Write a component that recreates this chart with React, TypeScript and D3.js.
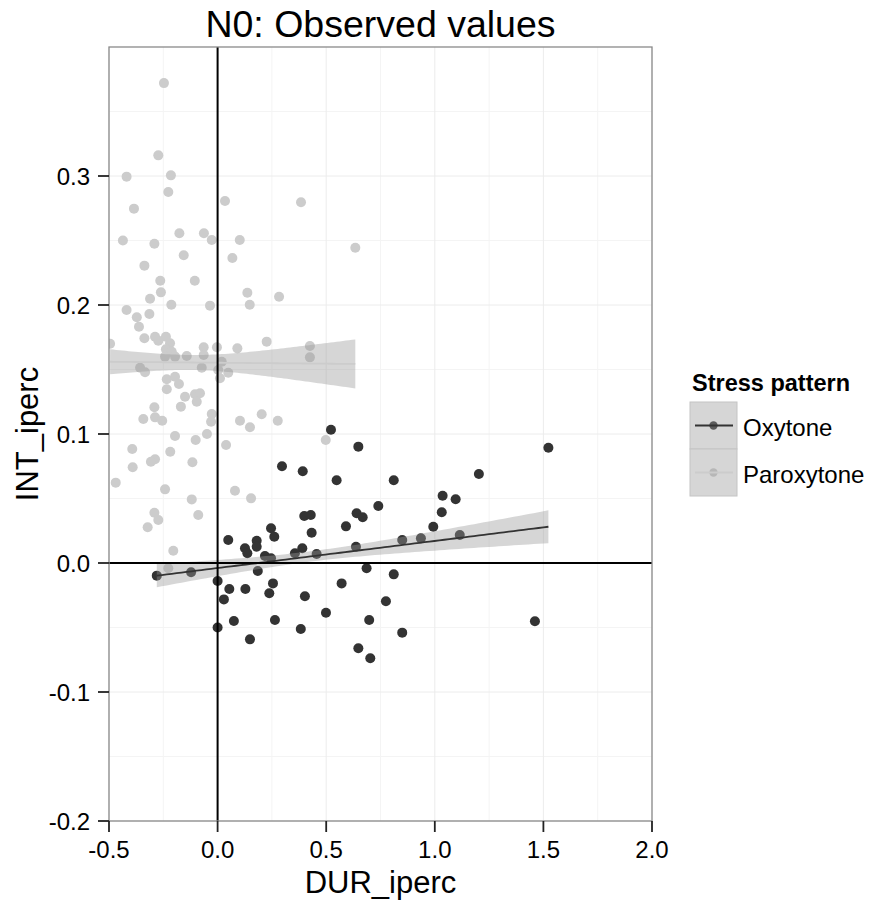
import React from "react";
import * as d3 from "d3";

// ---------- data ----------
const oxytoneX = [0.522, 0.648, 0.2965, 0.392, 0.548, 0.811, 1.036, 1.096, 0.74, 1.032, 0.993, 0.399, 0.429, 0.64, 0.668, 0.591, 0.433, 0.246, 0.261, 0.049, 0.18, 0.18, 0.126, 0.137, 0.218, 0.246, 0.39, 0.356, 0.456, 0.637, 0.85, 0.936, 1.115, 0.185, -0.122, 0.0, 0.054, 0.029, 0.128, 0.255, 0.238, 0.402, 0.571, 0.686, 0.811, 0.775, 0.499, 0.075, 0.264, 0.0, 0.383, 0.698, 0.85, 0.149, 0.648, 0.703, 1.461, 1.523, 1.203, -0.28];
const oxytoneY = [0.1033, 0.0902, 0.075, 0.0711, 0.0641, 0.0641, 0.0522, 0.0494, 0.0442, 0.0393, 0.0281, 0.0364, 0.0372, 0.0385, 0.0354, 0.0284, 0.0235, 0.0269, 0.0204, 0.0178, 0.0173, 0.0126, 0.0114, 0.0075, 0.0054, 0.0036, 0.0114, 0.0075, 0.007, 0.0126, 0.0178, 0.0191, 0.0217, -0.0062, -0.0072, -0.014, -0.0202, -0.0282, -0.0202, -0.0158, -0.0235, -0.0258, -0.0158, -0.0041, -0.0088, -0.0297, -0.0385, -0.045, -0.0442, -0.05, -0.0512, -0.0442, -0.054, -0.0592, -0.0661, -0.0739, -0.0452, 0.0894, 0.069, -0.0098];

const paroxytoneX = [-0.247, -0.273, -0.419, -0.215, -0.227, 0.034, 0.384, -0.385, -0.436, -0.291, -0.176, -0.063, -0.027, 0.102, -0.156, 0.068, -0.337, -0.264, -0.105, 0.137, 0.283, -0.261, -0.311, 0.634, -0.213, -0.419, -0.314, -0.035, 0.148, -0.372, -0.362, -0.337, -0.288, -0.273, -0.238, -0.219, -0.238, -0.211, -0.242, -0.196, -0.142, -0.064, -0.064, -0.003, 0.091, 0.226, 0.019, -0.073, -0.357, -0.334, 0.003, 0.049, 0.011, -0.234, -0.196, -0.178, -0.234, -0.15, -0.104, -0.081, -0.096, -0.169, -0.291, -0.342, -0.288, -0.255, -0.027, -0.03, 0.103, 0.149, 0.203, 0.277, -0.196, -0.101, -0.049, 0.039, -0.393, -0.218, -0.288, -0.307, -0.116, -0.391, -0.469, -0.242, 0.08, 0.154, -0.119, -0.291, -0.273, -0.089, -0.322, -0.204, -0.227, 0.425, 0.425, 0.498, -0.495];
const paroxytoneY = [0.372, 0.316, 0.2995, 0.3005, 0.2876, 0.2806, 0.2796, 0.2747, 0.25, 0.2475, 0.2556, 0.2556, 0.2504, 0.2504, 0.2385, 0.2364, 0.2305, 0.2188, 0.2188, 0.2095, 0.2064, 0.2098, 0.2049, 0.2444, 0.2002, 0.1961, 0.193, 0.1995, 0.2002, 0.1905, 0.1832, 0.1742, 0.1754, 0.1723, 0.1754, 0.1703, 0.1657, 0.1638, 0.16, 0.16, 0.1605, 0.1672, 0.1612, 0.1672, 0.1664, 0.1716, 0.156, 0.1514, 0.1514, 0.1478, 0.1496, 0.1475, 0.1432, 0.1424, 0.1444, 0.1388, 0.1347, 0.1289, 0.1308, 0.1316, 0.125, 0.1212, 0.1207, 0.1116, 0.1129, 0.1103, 0.1155, 0.1095, 0.1103, 0.1052, 0.1153, 0.1103, 0.0984, 0.0953, 0.1, 0.0915, 0.0884, 0.0863, 0.0804, 0.0785, 0.0781, 0.0742, 0.0623, 0.0571, 0.056, 0.0501, 0.0493, 0.039, 0.0333, 0.0372, 0.0277, 0.0095, -0.0041, 0.1682, 0.1594, 0.0953, 0.17];

// linear smooth summaries: x at [start, narrowest, end],
// fitted value at [start, end], half-width of the confidence band at [start, narrowest, end]
const oxytoneSmoothX = [-0.28, 0.42, 1.523];
const oxytoneSmoothFit = [-0.0098, 0.0281];
const oxytoneSmoothHalf = [0.009, 0.004, 0.0127];
const paroxytoneSmoothX = [-0.495, -0.12, 0.634];
const paroxytoneSmoothFit = [0.156, 0.1543];
const paroxytoneSmoothHalf = [0.0097, 0.0058, 0.019];

const seriesNames = ["Oxytone", "Paroxytone"];
const seriesColors = ["#333333", "#cccccc"];
const xTicks = [-0.5, 0.0, 0.5, 1.0, 1.5, 2.0];
const xMinor = [-0.25, 0.25, 0.75, 1.25, 1.75];
const yTicks = [-0.2, -0.1, 0.0, 0.1, 0.2, 0.3];
const yMinor = [-0.15, -0.05, 0.05, 0.15, 0.25, 0.35];

const TITLE = "N0: Observed values";
const X_TITLE = "DUR_iperc";
const Y_TITLE = "INT_iperc";
const LEGEND_TITLE = "Stress pattern";

// ---------- layout ----------
const W = 871;
const H = 902;
const P = { left: 109, right: 652, top: 47, bottom: 821 };
const FONT = "'Liberation Sans', Arial, Helvetica, sans-serif";

const x = d3.scaleLinear().domain([-0.5, 2.0]).range([P.left, P.right]);
const y = d3.scaleLinear().domain([-0.2, 0.4]).range([P.bottom, P.top]);

type BandPt = { x: number; fit: number; lo: number; hi: number };

function smoothBand(sx: number[], fit: number[], half: number[]): BandPt[] {
  const [x0, xc, x1] = sx;
  const slope = (fit[1] - fit[0]) / (x1 - x0);
  const h0 = half[1];
  const kL = Math.sqrt(Math.max(half[0] ** 2 - h0 ** 2, 0)) / Math.abs(xc - x0);
  const kR = Math.sqrt(Math.max(half[2] ** 2 - h0 ** 2, 0)) / Math.abs(x1 - xc);
  return d3.range(80).map((i) => {
    const xv = x0 + ((x1 - x0) * i) / 79;
    const f = fit[0] + slope * (xv - x0);
    const k = xv < xc ? kL : kR;
    const h = Math.sqrt(h0 ** 2 + (k * (xv - xc)) ** 2);
    return { x: xv, fit: f, lo: f - h, hi: f + h };
  });
}

const fmt = (v: number) => v.toFixed(1);

export default function App() {
  const groups = [
    { xs: paroxytoneX, ys: paroxytoneY, color: seriesColors[1] },
    { xs: oxytoneX, ys: oxytoneY, color: seriesColors[0] },
  ];
  const bands = [
    { band: smoothBand(oxytoneSmoothX, oxytoneSmoothFit, oxytoneSmoothHalf), color: seriesColors[0] },
    { band: smoothBand(paroxytoneSmoothX, paroxytoneSmoothFit, paroxytoneSmoothHalf), color: seriesColors[1] },
  ];
  const area = d3
    .area<BandPt>()
    .x((d) => x(d.x))
    .y0((d) => y(d.lo))
    .y1((d) => y(d.hi));
  const line = d3
    .line<BandPt>()
    .x((d) => x(d.x))
    .y((d) => y(d.fit));

  const cx = (P.left + P.right) / 2;
  const cy = (P.top + P.bottom) / 2;

  const legendX = 690;
  const keySize = 47;
  const keyTop = 402;

  return (
    <svg
      width={W}
      height={H}
      style={{ position: "absolute", left: 0, top: 0, background: "#fff" }}
      fontFamily={FONT}
    >
      <defs>
        <clipPath id="panel">
          <rect x={P.left} y={P.top} width={P.right - P.left} height={P.bottom - P.top} />
        </clipPath>
      </defs>
      <rect x={0} y={0} width={W} height={H} fill="#fff" />
      {/* grid */}
      <g>
        {yMinor.map((v) => (
          <line key={"ym" + v} x1={P.left} x2={P.right} y1={y(v)} y2={y(v)} stroke="#f4f4f4" strokeWidth={1} />
        ))}
        {xMinor.map((v) => (
          <line key={"xm" + v} y1={P.top} y2={P.bottom} x1={x(v)} x2={x(v)} stroke="#f4f4f4" strokeWidth={1} />
        ))}
        {yTicks.map((v) => (
          <line key={"yg" + v} x1={P.left} x2={P.right} y1={y(v)} y2={y(v)} stroke="#ececec" strokeWidth={1} />
        ))}
        {xTicks.map((v) => (
          <line key={"xg" + v} y1={P.top} y2={P.bottom} x1={x(v)} x2={x(v)} stroke="#ececec" strokeWidth={1} />
        ))}
      </g>
      <g clipPath="url(#panel)">
        {groups.map((g, gi) =>
          g.xs.map((xv, i) => (
            <circle key={gi + "-" + i} cx={x(xv)} cy={y(g.ys[i])} r={5} fill={g.color} />
          ))
        )}
        {bands.map((b, i) => (
          <g key={"band" + i}>
            <path d={area(b.band) || ""} fill="#999999" fillOpacity={0.4} />
            <path d={line(b.band) || ""} fill="none" stroke={b.color} strokeWidth={1.8} />
          </g>
        ))}
        <line x1={P.left} x2={P.right} y1={y(0)} y2={y(0)} stroke="#000" strokeWidth={2} />
        <line x1={x(0)} x2={x(0)} y1={P.top} y2={P.bottom} stroke="#000" strokeWidth={2} />
      </g>
      {/* panel border */}
      <rect
        x={P.left}
        y={P.top}
        width={P.right - P.left}
        height={P.bottom - P.top}
        fill="none"
        stroke="#8a8a8a"
        strokeWidth={1.3}
      />
      {/* y axis */}
      <g>
        {yTicks.map((v) => (
          <g key={"yt" + v}>
            <line x1={P.left - 11} x2={P.left} y1={y(v)} y2={y(v)} stroke="#222" strokeWidth={1.8} />
            <text x={P.left - 19} y={y(v)} dy="0.36em" textAnchor="end" fontSize={24} fill="#000">
              {fmt(v)}
            </text>
          </g>
        ))}
      </g>
      {/* x axis */}
      <g>
        {xTicks.map((v) => (
          <g key={"xt" + v}>
            <line x1={x(v)} x2={x(v)} y1={P.bottom} y2={P.bottom + 11} stroke="#222" strokeWidth={1.8} />
            <text x={x(v)} y={858} textAnchor="middle" fontSize={24} fill="#000">
              {fmt(v)}
            </text>
          </g>
        ))}
      </g>
      <text x={cx} y={893} textAnchor="middle" fontSize={31} fill="#000">
        {X_TITLE}
      </text>
      <text transform={`translate(38,${cy}) rotate(-90)`} textAnchor="middle" fontSize={31} fill="#000">
        {Y_TITLE}
      </text>
      <text x={cx} y={37} textAnchor="middle" fontSize={37.5} fill="#000">
        {TITLE}
      </text>
      {/* legend */}
      <g>
        <text x={692} y={391} fontSize={23.5} fontWeight="bold" fill="#000">
          {LEGEND_TITLE}
        </text>
        {seriesNames.map((name, i) => {
          const ky = keyTop + i * keySize;
          const mid = ky + keySize / 2;
          return (
            <g key={name}>
              <rect x={legendX} y={ky} width={keySize} height={keySize} fill="#fff" />
              <circle cx={legendX + keySize / 2} cy={mid} r={4.2} fill={seriesColors[i]} />
              <rect
                x={legendX}
                y={ky}
                width={keySize}
                height={keySize}
                fill="#999999"
                fillOpacity={0.4}
                stroke="#c4c4c4"
                strokeWidth={1}
              />
              <line
                x1={legendX + 5}
                x2={legendX + keySize - 4}
                y1={mid}
                y2={mid}
                stroke={seriesColors[i]}
                strokeWidth={1.8}
              />
              <text x={743} y={mid + 10} fontSize={24} fill="#000">
                {name}
              </text>
            </g>
          );
        })}
      </g>
    </svg>
  );
}
